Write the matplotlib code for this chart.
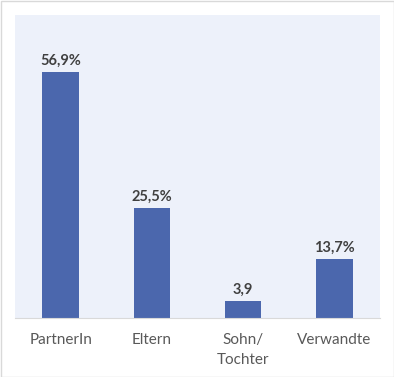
import matplotlib
matplotlib.use('Agg')
import matplotlib.pyplot as plt

categories = ['PartnerIn', 'Eltern', 'Sohn/\nTochter', 'Verwandte']
values = [56.9, 25.5, 3.9, 13.7]
value_labels = ['56,9%', '25,5%', '3,9', '13,7%']

plt.rcParams['font.family'] = ['Lato', 'DejaVu Sans']

fig = plt.figure(figsize=(3.94, 3.77), dpi=100)
ax = fig.add_axes([15 / 394, 59 / 377, 365 / 394, 303 / 377])
ax.set_facecolor('#edf1fa')

x = range(len(categories))
bars = ax.bar(x, values, 0.4, color='#4b67ad', zorder=2)
for b, lab in zip(bars, value_labels):
    ax.annotate(lab, (b.get_x() + b.get_width() / 2, b.get_height()),
                xytext=(0, 3), textcoords='offset points',
                ha='center', va='bottom', fontsize=10.5, fontweight='bold', color='#404040')

ax.set_xlim(-0.5, 3.5)
ax.set_ylim(0, 70)
ax.set_yticks([])
ax.set_xticks(list(x))
ax.set_xticklabels(categories, fontsize=11, color='#595959', linespacing=1.5)
ax.tick_params(axis='x', length=0, pad=11)
for s in ['top', 'right', 'left']:
    ax.spines[s].set_visible(False)
ax.spines['bottom'].set_color('#d9d9d9')

# outer border
fig.patches.append(plt.Rectangle((0.5 / 394, 0.5 / 377), 393 / 394, 376 / 377,
                                 transform=fig.transFigure, fill=False,
                                 edgecolor='#d9d9d9', linewidth=1))

plt.savefig('out.png', dpi=100)
